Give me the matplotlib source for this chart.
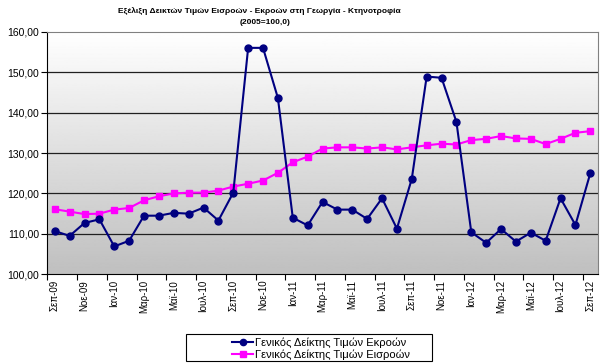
import numpy as np
import matplotlib
matplotlib.use("Agg")
import matplotlib.pyplot as plt
from matplotlib.patches import Rectangle

plt.rcParams['font.family'] = ['Liberation Sans', 'DejaVu Sans']

labels = ["Σεπ-09", "Νοε-09", "Ιαν-10", "Μαρ-10", "Μαϊ-10", "Ιουλ-10", "Σεπ-10", "Νοε-10", "Ιαν-11",
          "Μαρ-11", "Μαϊ-11", "Ιουλ-11", "Σεπ-11", "Νοε-11", "Ιαν-12", "Μαρ-12", "Μαϊ-12", "Ιουλ-12", "Σεπ-12"]

output_idx = [110.7, 109.5, 112.7, 113.6, 106.9, 108.3, 114.5, 114.5, 115.2, 115.0, 116.5, 113.3,
              120.2, 156.0, 156.0, 143.6, 114.0, 112.1, 117.9, 116.0, 116.0, 113.7, 118.8, 111.3,
              123.6, 148.9, 148.6, 137.7, 110.4, 107.8, 111.2, 108.1, 110.3, 108.3, 118.8, 112.2, 125.0]
input_idx = [116.1, 115.5, 114.9, 115.0, 116.0, 116.4, 118.3, 119.3, 120.0, 120.2, 120.2, 120.7,
             121.7, 122.4, 123.2, 125.1, 127.7, 129.1, 131.1, 131.4, 131.4, 131.1, 131.4, 130.9,
             131.4, 131.9, 132.3, 132.1, 133.2, 133.5, 134.2, 133.6, 133.5, 132.2, 133.5, 135.0, 135.4]

x = np.arange(len(output_idx))

fig = plt.figure(figsize=(6.05, 3.63), dpi=100)
ax = fig.add_axes([0.0782, 0.2443, 0.9098, 0.6684])

# gradient background
grad = np.linspace(1.0, 0.75, 256).reshape(-1, 1)
ax.imshow(grad, cmap='gray', vmin=0, vmax=1, aspect='auto',
          extent=(-0.5, len(x) - 0.5, 100, 160), origin='upper', zorder=0)

for yv in range(110, 160, 10):
    ax.axhline(yv, color='#202020', lw=0.9, zorder=1)

ax.plot(x, output_idx, color='#000080', lw=1.5, marker='o', ms=5, zorder=3,
        label="Γενικός Δείκτης Τιμών Εκροών")
ax.plot(x, input_idx, color='#FF00FF', lw=1.5, marker='s', ms=5, zorder=2,
        label="Γενικός Δείκτης Τιμών Εισροών")

ax.set_xlim(-0.5, len(x) - 0.5)
ax.set_ylim(100, 160)
ax.set_yticks(range(100, 161, 10))
ax.set_yticklabels([f"{v},00" for v in range(100, 161, 10)], fontsize=7.5)

ax.set_xticks(np.arange(-0.5, len(x), 2))
ax.set_xticklabels([])
ax.set_xticks(np.arange(0, len(x), 2), minor=True)
ax.set_xticklabels(labels, minor=True, rotation=90, fontsize=7)
ax.tick_params(axis='x', which='minor', length=0, pad=4)
ax.tick_params(axis='x', which='major', length=4, direction='out')
ax.tick_params(axis='y', length=4, direction='out', pad=2)

for s in ['top', 'right']:
    ax.spines[s].set_color('#808080')
for s in ['left', 'bottom']:
    ax.spines[s].set_color('black')

fig.text(0.428, 0.97, "Εξέλιξη Δεικτών Τιμών Εισροών - Εκροών στη Γεωργία - Κτηνοτροφία",
         ha='center', va='center', fontsize=6, fontweight='bold')
fig.text(0.438, 0.937, "(2005=100,0)", ha='center', va='center', fontsize=6, fontweight='bold')

# legend box (Excel style, wider than its content)
W, H = 605, 363
fig.patches.append(Rectangle((186 / W, 1 - 361 / H), 246 / W, 27 / H, transform=fig.transFigure,
                             facecolor='white', edgecolor='black', lw=0.8, zorder=5))
leg = fig.legend(loc='upper left', bbox_to_anchor=(232 / W, 1 - 337 / H), fontsize=8,
                 frameon=False, handlelength=1.9, handletextpad=0.2, borderpad=0,
                 borderaxespad=0, labelspacing=0.2, markerscale=0.9)
leg.set_zorder(6)

fig.savefig("out.png", dpi=100)
